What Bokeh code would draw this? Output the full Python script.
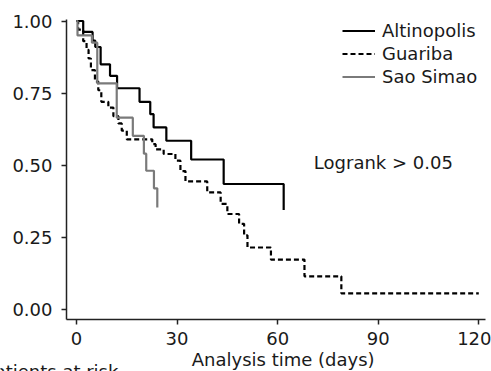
from bokeh.plotting import figure
from bokeh.models import Range1d, FixedTicker, Legend, LegendItem, Label, NumeralTickFormatter
from bokeh.embed import file_html
from bokeh.resources import INLINE

# Kaplan-Meier step data (time in days, survival probability)
alt_t = [0, 2, 4.8, 5.6, 7.2, 10, 12.1, 18.8, 22, 23, 26.8, 34.2, 43.9, 61.8]
alt_s = [1.0, 0.962, 0.932, 0.91, 0.85, 0.81, 0.767, 0.72, 0.677, 0.631, 0.585, 0.52, 0.435, 0.345]

gua_t = [0, 0.5, 2, 3, 3.6, 4.3, 5.5, 6.5, 7.4, 9.5, 11, 12.5, 13.5, 15, 22.6, 23.6, 26, 29.5, 31, 32.5,
         39, 43, 45, 48.5, 50, 51, 58, 68, 79, 120]
gua_s = [1.0, 0.97, 0.93, 0.90, 0.87, 0.83, 0.79, 0.76, 0.72, 0.70, 0.67, 0.645, 0.62, 0.59, 0.573, 0.555,
         0.539, 0.516, 0.48, 0.444, 0.406, 0.366, 0.331, 0.297, 0.257, 0.215, 0.173, 0.115, 0.056, 0.056]

sao_t = [0, 0.3, 4.6, 6.2, 12, 16.8, 20.1, 20.8, 23.1, 24.1]
sao_s = [1.0, 0.95, 0.925, 0.784, 0.665, 0.602, 0.54, 0.481, 0.42, 0.354]

series_names = ["Altinopolis", "Guariba", "Sao Simao"]
x_ticks = [0, 30, 60, 90, 120]
y_ticks = [0, 0.25, 0.5, 0.75, 1.0]

FONT = "DejaVu Sans"
TXT = "#1a1a1a"
AX = "#222222"

p = figure(width=491, height=371, output_backend="svg", toolbar_location=None,
           x_range=Range1d(-22.67, 123.79), y_range=Range1d(-0.2149, 1.0711),
           min_border=0)
p.outline_line_color = None
p.xgrid.visible = False
p.ygrid.visible = False
p.background_fill_color = "white"
p.border_fill_color = "white"

for ax in (p.xaxis[0], p.yaxis[0]):
    ax.axis_line_color = AX
    ax.axis_line_width = 1.5
    ax.major_tick_line_color = AX
    ax.major_tick_line_width = 1.5
    ax.major_tick_out = 5
    ax.major_tick_in = 0
    ax.minor_tick_line_color = None
    ax.major_label_text_font = FONT
    ax.major_label_text_font_size = "18px"
    ax.major_label_text_color = TXT

p.xaxis.fixed_location = -0.0347
p.xaxis.bounds = (-2.98, 122.0)
p.yaxis.fixed_location = -2.98
p.yaxis.bounds = (-0.0347, 1.0052)
p.xaxis.ticker = FixedTicker(ticks=x_ticks)
p.yaxis.ticker = FixedTicker(ticks=y_ticks)
p.yaxis.formatter = NumeralTickFormatter(format="0.00")
p.xaxis.major_label_standoff = 7
p.yaxis.major_label_standoff = 9

r_alt = p.step(alt_t, alt_s, mode="after", line_color="black", line_width=2.2)
r_gua = p.step(gua_t, gua_s, mode="after", line_color="black", line_width=2.2, line_dash="5 3")
r_sao = p.step(sao_t, sao_s, mode="after", line_color="#7a7a7a", line_width=2.2)

legend = Legend(items=[LegendItem(label=series_names[0], renderers=[r_alt]),
                       LegendItem(label=series_names[1], renderers=[r_gua]),
                       LegendItem(label=series_names[2], renderers=[r_sao])],
                location=(342, 283), padding=0, margin=0, spacing=0,
                glyph_width=33, glyph_height=23, label_height=23, label_standoff=7,
                label_text_font=FONT, label_text_font_size="18px", label_text_color=TXT,
                border_line_alpha=0, background_fill_alpha=0)
p.add_layout(legend, "center")

p.add_layout(Label(x=70.8, y=0.51, text="Logrank > 0.05", text_font=FONT, text_font_size="18px",
                   text_color=TXT, text_baseline="alphabetic", text_align="left"))
p.add_layout(Label(x=61.65, y=-0.172, text="Analysis time (days)", text_font=FONT, text_font_size="18px",
                   text_color=TXT, text_baseline="alphabetic", text_align="center"))
p.add_layout(Label(x=12.5, y=-0.216, text="Number of patients at risk", text_font=FONT,
                   text_font_size="18px", text_color=TXT, text_baseline="alphabetic", text_align="right"))

open("out.html", "w").write(file_html(p, INLINE))
